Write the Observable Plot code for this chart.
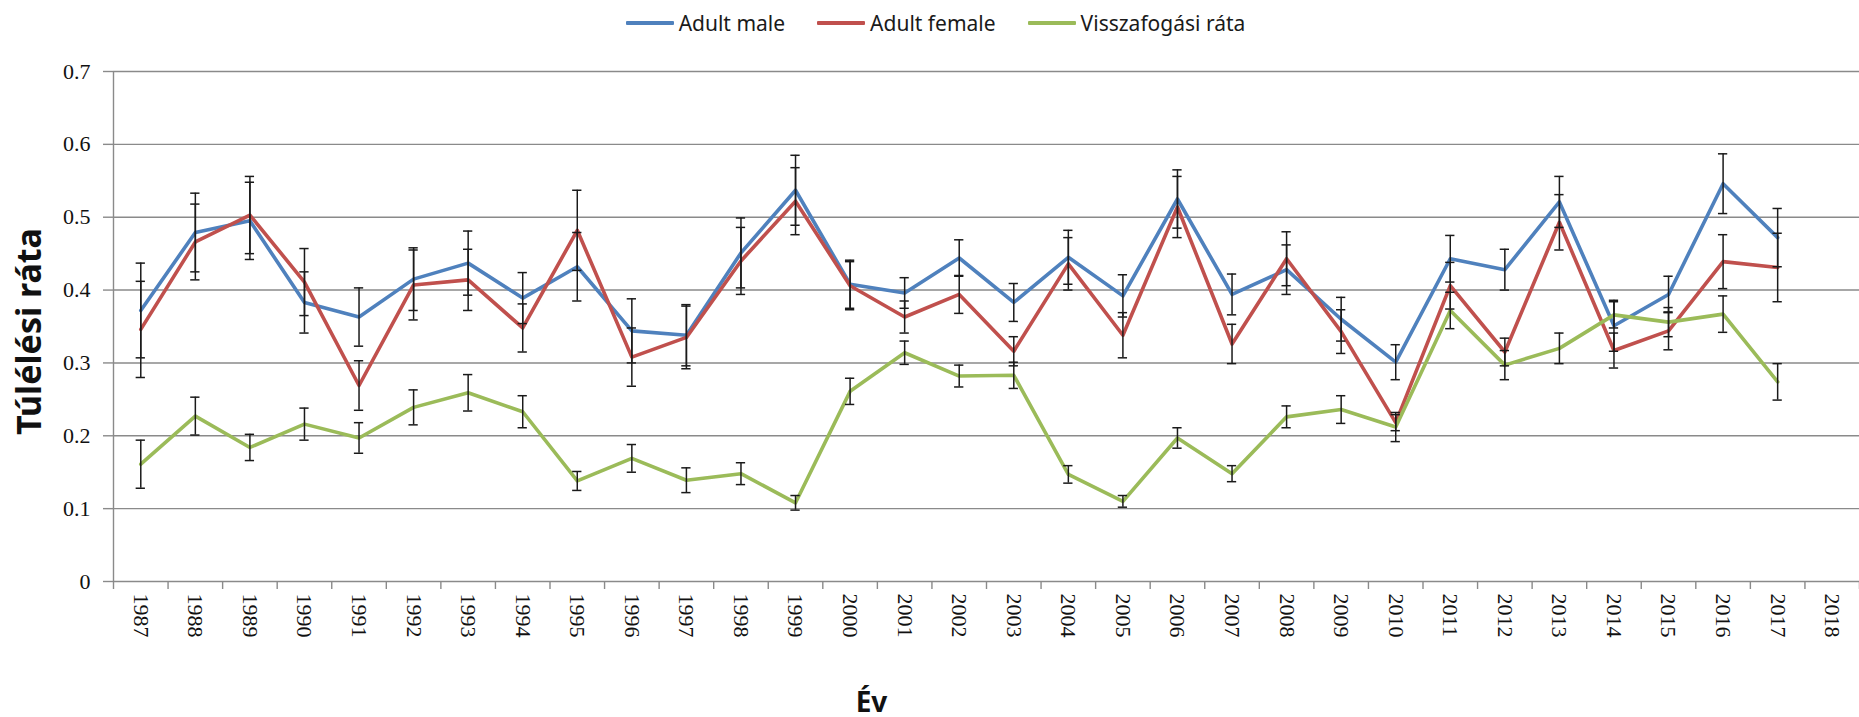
<!DOCTYPE html>
<html>
<head>
<meta charset="utf-8">
<script src="https://cdn.jsdelivr.net/npm/d3@7"></script>
<script src="https://cdn.jsdelivr.net/npm/@observablehq/plot@0.6"></script>
<style>
  html, body { margin: 0; padding: 0; background: #fff; }
  #wrap { width: 1859px; }
  #legend { height: 45px; display: flex; justify-content: center; align-items: center;
            font-family: "Noto Sans", "Open Sans", sans-serif; font-size: 21px; color: #1a1a1a;
            padding-left: 12px; box-sizing: border-box; gap: 32px; }
  .item { display: flex; align-items: center; }
  .sw { width: 48px; height: 4px; margin-right: 5px; border-radius: 1px; }
</style>
</head>
<body>
<div id="wrap">
  <div id="legend"></div>
  <div id="chart"></div>
</div>
<script>
// ---- Data ----
const years = [1987, 1988, 1989, 1990, 1991, 1992, 1993, 1994, 1995, 1996, 1997, 1998, 1999, 2000, 2001, 2002,
               2003, 2004, 2005, 2006, 2007, 2008, 2009, 2010, 2011, 2012, 2013, 2014, 2015, 2016, 2017, 2018];

const seriesNames = ["Adult male", "Adult female", "Visszafogási ráta"];
const seriesColors = ["#4F81BD", "#C0504D", "#9BBB59"];

const adultMale = [0.372, 0.479, 0.495, 0.383, 0.363, 0.415, 0.437, 0.389, 0.432, 0.344, 0.338, 0.451, 0.537, 0.408, 0.396, 0.444,
                   0.383, 0.445, 0.392, 0.525, 0.394, 0.428, 0.360, 0.301, 0.443, 0.428, 0.521, 0.351, 0.394, 0.546, 0.472, null];
const adultMaleErr = [0.065, 0.054, 0.053, 0.042, 0.040, 0.043, 0.044, 0.035, 0.047, 0.044, 0.042, 0.048, 0.048, 0.033, 0.021, 0.025,
                      0.026, 0.037, 0.029, 0.040, 0.028, 0.034, 0.030, 0.024, 0.032, 0.028, 0.035, 0.035, 0.025, 0.041, 0.040, null];

const adultFemale = [0.346, 0.466, 0.503, 0.411, 0.269, 0.407, 0.414, 0.348, 0.482, 0.308, 0.335, 0.440, 0.522, 0.406, 0.363, 0.394,
                     0.316, 0.436, 0.338, 0.514, 0.326, 0.443, 0.343, 0.218, 0.406, 0.315, 0.493, 0.317, 0.344, 0.439, 0.431, null];
const adultFemaleErr = [0.066, 0.052, 0.053, 0.046, 0.034, 0.048, 0.042, 0.033, 0.055, 0.040, 0.043, 0.046, 0.046, 0.033, 0.022, 0.026,
                        0.020, 0.036, 0.031, 0.042, 0.027, 0.037, 0.030, 0.011, 0.032, 0.019, 0.038, 0.024, 0.026, 0.037, 0.047, null];

const recapture = [0.161, 0.227, 0.184, 0.216, 0.197, 0.239, 0.259, 0.233, 0.138, 0.169, 0.139, 0.148, 0.108, 0.261, 0.314, 0.282,
                   0.283, 0.147, 0.110, 0.197, 0.148, 0.226, 0.236, 0.212, 0.372, 0.297, 0.320, 0.366, 0.356, 0.367, 0.274, null];
const recaptureErr = [0.033, 0.026, 0.018, 0.022, 0.021, 0.024, 0.025, 0.022, 0.013, 0.019, 0.017, 0.015, 0.010, 0.018, 0.016, 0.015,
                      0.018, 0.012, 0.008, 0.014, 0.011, 0.015, 0.019, 0.020, 0.025, 0.020, 0.021, 0.018, 0.020, 0.025, 0.025, null];

const yTicks = [0, 0.1, 0.2, 0.3, 0.4, 0.5, 0.6, 0.7];
const yTitle = "Túlélési ráta";
const xTitle = "Év";

// ---- Build table ----
const valueSets = [adultMale, adultFemale, recapture];
const errSets = [adultMaleErr, adultFemaleErr, recaptureErr];
const rows = [];
seriesNames.forEach((name, s) => {
  years.forEach((yr, i) => {
    const v = valueSets[s][i];
    if (v != null) rows.push({series: name, year: yr, value: v, err: errSets[s][i]});
  });
});
const boundaries = years.map(y => y - 0.5).concat([years[years.length - 1] + 0.5]);

// ---- Legend ----
const legend = document.getElementById("legend");
seriesNames.forEach((name, i) => {
  const item = document.createElement("div");
  item.className = "item";
  const sw = document.createElement("div");
  sw.className = "sw";
  sw.style.background = seriesColors[i];
  const label = document.createElement("span");
  label.textContent = name;
  item.appendChild(sw);
  item.appendChild(label);
  legend.appendChild(item);
});

const gridColor = "#8a8a8a";
const serif = "'Liberation Serif', 'Times New Roman', 'DejaVu Serif', serif";
const sans = "'Noto Sans', 'Open Sans', sans-serif";
const capHalf = 0.085;

const chart = Plot.plot({
  width: 1859,
  height: 672,
  marginLeft: 113,
  marginRight: 0,
  marginTop: 26,
  marginBottom: 136,
  x: {type: "linear", domain: [boundaries[0], boundaries[boundaries.length - 1]], axis: null, label: null},
  y: {domain: [0, 0.7], axis: null, label: null},
  color: {domain: seriesNames, range: seriesColors},
  style: {background: "white", overflow: "visible"},
  marks: [
    Plot.gridY(yTicks, {stroke: gridColor, strokeOpacity: 1, strokeWidth: 1.4}),
    Plot.ruleX([boundaries[0]], {stroke: gridColor, strokeWidth: 1.4}),
    Plot.axisY(yTicks, {
      label: null,
      tickSize: 10, tickPadding: 13, stroke: gridColor, strokeWidth: 1.4,
      fontSize: 22, fontFamily: serif, fill: "#111",
      tickFormat: d => d === 0 ? "0" : d.toFixed(1)
    }),
    Plot.axisX(boundaries, {label: null, tickSize: 8, tickFormat: () => "", stroke: gridColor, strokeWidth: 1.4}),
    Plot.axisX(years, {
      label: null,
      tickSize: 0, tickPadding: 12, tickRotate: 90, textAnchor: "start", lineAnchor: "middle",
      fontSize: 22, fontFamily: serif, fill: "#111",
      tickFormat: d => String(d)
    }),
    Plot.lineY(rows, {
      x: "year", y: "value", z: "series", stroke: "series",
      strokeWidth: 3.6, strokeLinejoin: "round", strokeLinecap: "round"
    }),
    // error bars
    Plot.ruleX(rows, {x: "year", y1: d => d.value - d.err, y2: d => d.value + d.err, stroke: "#1a1a1a", strokeWidth: 1.5}),
    Plot.ruleY(rows, {y: d => d.value + d.err, x1: d => d.year - capHalf, x2: d => d.year + capHalf, stroke: "#1a1a1a", strokeWidth: 1.5}),
    Plot.ruleY(rows, {y: d => d.value - d.err, x1: d => d.year - capHalf, x2: d => d.year + capHalf, stroke: "#1a1a1a", strokeWidth: 1.5}),
    // axis titles
    Plot.text([yTitle], {
      text: d => d, frameAnchor: "left", dx: -83, dy: 5, rotate: -90,
      textAnchor: "middle", lineAnchor: "middle",
      fontSize: 34, fontWeight: "bold", fontFamily: sans, fill: "#111"
    }),
    Plot.text([xTitle], {
      text: d => d, frameAnchor: "bottom", dx: -115, dy: 122,
      textAnchor: "middle", lineAnchor: "middle",
      fontSize: 28, fontWeight: "bold", fontFamily: sans, fill: "#111"
    })
  ]
});
document.getElementById("chart").appendChild(chart);
</script>
</body>
</html>
